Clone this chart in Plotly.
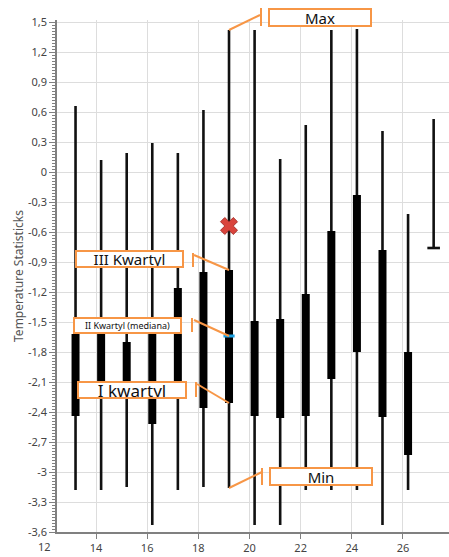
import plotly.graph_objects as go

# ---- data ----
x_pos = [13.2, 14.2, 15.2, 16.2, 17.2, 18.2, 19.2, 20.2, 21.2, 22.2, 23.2, 24.2, 25.2, 26.2, 27.2]
maxs = [0.66, 0.12, 0.19, 0.29, 0.19, 0.62, 1.42, 1.42, 0.13, 0.47, 1.42, 1.43, 0.41, -0.42, 0.53]
q3 = [-1.62, -1.62, -1.70, -1.62, -1.16, -1.00, -0.98, -1.49, -1.47, -1.22, -0.59, -0.23, -0.78, -1.80, None]
q1 = [-2.44, -2.20, -2.15, -2.52, -2.15, -2.36, -2.31, -2.44, -2.46, -2.44, -2.07, -1.80, -2.45, -2.83, None]
mins = [-3.18, -3.18, -3.15, -3.53, -3.18, -3.15, -3.16, -3.53, -3.53, -3.18, -3.18, -3.18, -3.53, -3.18, -0.76]
highlight_index = 6
highlight_median = -1.64
outlier_x = [19.2]
outlier_y = [-0.54]
cap_index = 14

y_tickvals = [1.5, 1.2, 0.9, 0.6, 0.3, 0, -0.3, -0.6, -0.9, -1.2, -1.5, -1.8, -2.1, -2.4, -2.7, -3.0, -3.3, -3.6]
y_ticktext = ["1,5", "1,2", "0,9", "0,6", "0,3", "0", "-0,3", "-0,6", "-0,9", "-1,2", "-1,5", "-1,8",
              "-2,1", "-2,4", "-2,7", "-3", "-3,3", "-3,6"]
x_tickvals = [14, 16, 18, 20, 22, 24, 26]
x_ticktext = ["14", "16", "18", "20", "22", "24", "26"]
x_first_label = "12"
y_title = "Temperature Statisticks"

Y_RANGE = [-3.6, 1.52]
X_RANGE = [12.475, 27.8]
ORANGE = "#F79646"
FONT = "Noto Sans"

# whisker and box segments
wx, wy, bx, by = [], [], [], []
for i, xv in enumerate(x_pos):
    wx += [xv, xv, None]
    wy += [mins[i], maxs[i], None]
    if q1[i] is not None and q3[i] is not None:
        bx += [xv, xv, None]
        by += [q1[i], q3[i], None]

fig = go.Figure()
fig.add_trace(go.Scatter(x=wx, y=wy, mode="lines", line=dict(color="#111111", width=2.6),
                         hoverinfo="skip", showlegend=False))
fig.add_trace(go.Scatter(x=bx, y=by, mode="lines", line=dict(color="#000000", width=8),
                         hoverinfo="skip", showlegend=False))
# bottom cap of the last whisker
fig.add_trace(go.Scatter(x=[x_pos[cap_index]], y=[mins[cap_index]], mode="markers",
                         marker=dict(symbol="line-ew", size=9, line=dict(color="#111111", width=2.6)),
                         showlegend=False))
# highlighted median
fig.add_trace(go.Scatter(x=[x_pos[highlight_index]], y=[highlight_median], mode="markers",
                         marker=dict(symbol="line-ew", size=8, line=dict(color="#1BA1E2", width=3)),
                         showlegend=False))
# outlier
fig.add_trace(go.Scatter(x=outlier_x, y=outlier_y, mode="markers",
                         marker=dict(symbol="x", size=15, color="#D9443C",
                                     line=dict(color="#A8322C", width=1)),
                         showlegend=False))

hx = x_pos[highlight_index]
callouts = [
    # text, anchor y, line end (dx, dy), bracket x, bracket y0,y1, shift x,y, box w,h, font size
    ("Max", maxs[highlight_index], (31, 15), 32, (4, 22), (91, 13), (100, 15), 15),
    ("III Kwartyl", q3[highlight_index], (-35, 15), -36, (3, 17), (-100, 11), (105, 14), 15),
    ("II Kwartyl (mediana)", highlight_median, (-35, 16), -37, (4, 18), (-102, 11), (105, 13), 9),
    ("I kwartyl", q1[highlight_index], (-32, 19), -33, (6, 21), (-97, 13), (106, 14), 17),
    ("Min", mins[highlight_index], (33, 16), 33, (3, 20), (92, 12), (100, 15), 15),
]
shapes = []
annotations = []
for text, ay, (ldx, ldy), bxp, (by0, by1), (sx, sy), (w, h), fs in callouts:
    # anchor height as a fraction of the y axis (paper ref keeps the callout unclipped)
    yfrac = (ay - Y_RANGE[0]) / (Y_RANGE[1] - Y_RANGE[0])
    shapes.append(dict(type="line", xref="x", yref="paper", xsizemode="pixel", ysizemode="pixel",
                       xanchor=hx, yanchor=yfrac, x0=0, y0=0, x1=ldx, y1=ldy,
                       line=dict(color=ORANGE, width=2)))
    shapes.append(dict(type="line", xref="x", yref="paper", xsizemode="pixel", ysizemode="pixel",
                       xanchor=hx, yanchor=yfrac, x0=bxp, y0=by0, x1=bxp, y1=by1,
                       line=dict(color=ORANGE, width=2)))
    annotations.append(dict(x=hx, y=ay, xref="x", yref="y", text=text, showarrow=False,
                            xshift=sx, yshift=sy, width=w, height=h, align="center",
                            bordercolor=ORANGE, borderwidth=2, borderpad=0, bgcolor="white",
                            font=dict(family=FONT, size=fs, color="#111111")))

# the "12" label, left of the plot area
annotations.append(dict(x=-0.031, y=0, xref="paper", yref="paper", text=x_first_label, showarrow=False,
                        xanchor="center", yanchor="top", yshift=-5,
                        font=dict(family=FONT, size=11, color="#444444")))

fig.update_layout(
    width=449, height=557,
    margin=dict(l=57, r=0, t=20, b=25),
    paper_bgcolor="white", plot_bgcolor="white",
    font=dict(family=FONT, size=11, color="#444444"),
    shapes=shapes, annotations=annotations,
    showlegend=False,
)
fig.update_xaxes(range=X_RANGE, tickvals=x_tickvals, ticktext=x_ticktext,
                 showgrid=True, gridcolor="#DDDDDD", gridwidth=1,
                 showline=True, linecolor="#808080", linewidth=1.5,
                 ticks="outside", ticklen=5, tickcolor="#808080", zeroline=False,
                 tickfont=dict(family=FONT, size=11, color="#444444"))
fig.update_yaxes(range=Y_RANGE, tickvals=y_tickvals, ticktext=y_ticktext,
                 showgrid=True, gridcolor="#DDDDDD", gridwidth=1,
                 showline=True, linecolor="#808080", linewidth=1.5,
                 ticks="outside", ticklen=6, tickcolor="#808080", zeroline=False,
                 minor=dict(tickvals=[round(-3.6 + 0.03 * k, 2) for k in range(171)],
                            ticks="outside", ticklen=3, tickcolor="#808080", showgrid=False),
                 tickfont=dict(family=FONT, size=11, color="#444444"),
                 title=dict(text=y_title, standoff=2, font=dict(family=FONT, size=12, color="#555555")))

fig.write_html("out.html", config={"displayModeBar": False},
               post_script="document.body.style.margin='0';document.body.style.overflow='hidden';")
